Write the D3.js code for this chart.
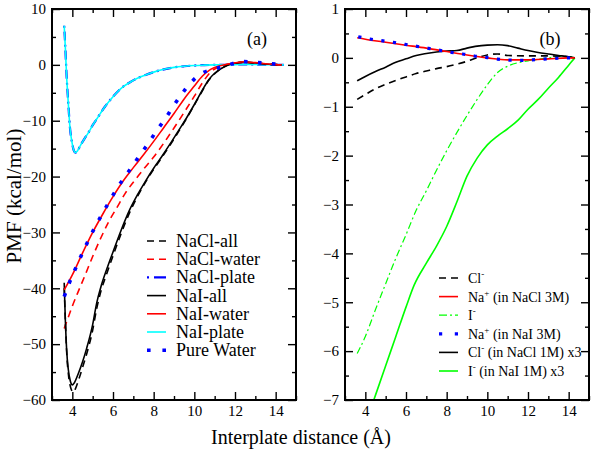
<!DOCTYPE html>
<html>
<head>
<meta charset="utf-8">
<script src="https://cdn.jsdelivr.net/npm/d3@7/dist/d3.min.js"></script>
<style>
  html, body { margin: 0; padding: 0; background: #fff; }
  svg { display: block; }
  text { font-family: 'Liberation Serif', 'Times New Roman', serif; fill: #000; }
</style>
</head>
<body>
<svg id="chart" width="600" height="456"></svg>
<script>
// ---------------- DATA ----------------
const xMajorTicks = [4, 6, 8, 10, 12, 14];
const xMinorTicks = [3, 5, 7, 9, 11, 13, 15];
const aYMajorTicks = [10, 0, -10, -20, -30, -40, -50, -60];
const aYMinorTicks = [5, -5, -15, -25, -35, -45, -55];
const bYMajorTicks = [1, 0, -1, -2, -3, -4, -5, -6, -7];
const bYMinorTicks = [0.5, -0.5, -1.5, -2.5, -3.5, -4.5, -5.5, -6.5];

// Panel (a) series: [distance, PMF]
const naclAll = [[3.6,-40],[3.66,-46],[3.73,-52],[3.82,-55.8],[3.92,-57.8],[4.05,-58.6],[4.15,-58.0],[4.3,-56.5],[4.5,-54.2],[4.7,-51.8],[5.0,-47.5],[5.2,-43.6],[5.4,-40.6],[5.7,-37.3],[6.0,-34.2],[6.4,-30.2],[6.8,-26.6],[7.2,-23.6],[7.6,-21.0],[8.0,-18.7],[8.4,-16.6],[8.8,-14.4],[9.2,-12.1],[9.6,-9.7],[10.0,-7.2],[10.4,-4.6],[10.7,-2.8],[11.0,-1.6],[11.3,-0.7],[11.6,-0.1],[12.0,0.3],[12.4,0.45],[13.0,0.35],[13.5,0.15],[14.0,0.05],[14.3,0]];
const naclWater = [[3.6,-47.2],[3.8,-45.2],[4.0,-43.2],[4.3,-40.5],[4.6,-37.9],[5.0,-34.3],[5.4,-31.0],[5.8,-28.0],[6.2,-25.5],[6.6,-23.0],[7.0,-21.0],[7.5,-18.7],[8.0,-16.5],[8.5,-14.0],[9.0,-11.3],[9.5,-8.5],[10.0,-5.6],[10.4,-3.2],[10.8,-1.3],[11.2,-0.4],[11.6,0.05],[12.0,0.3],[12.4,0.45],[13.0,0.35],[13.5,0.15],[14.0,0.05],[14.3,0]];
const naclPlate = [[3.6,7.0],[3.65,3.5],[3.72,-2.1],[3.8,-6.8],[3.88,-11.1],[3.99,-14.0],[4.07,-15.3],[4.15,-15.7],[4.25,-15.4],[4.4,-14.4],[4.6,-13.2],[4.8,-12.1],[5.0,-10.8],[5.2,-9.7],[5.6,-7.5],[6.0,-5.7],[6.4,-4.2],[6.8,-3.2],[7.2,-2.4],[7.6,-1.8],[8.0,-1.3],[8.5,-0.8],[9.0,-0.45],[9.5,-0.25],[10.0,-0.12],[10.5,-0.05],[11.0,0],[11.5,0.02],[12.0,0.05],[12.5,0.08],[13.0,0.06],[13.5,0.03],[14.0,0],[14.4,0]];
const naiAll = [[3.6,-39],[3.65,-45],[3.72,-51],[3.8,-54.5],[3.9,-56.6],[4.0,-57.3],[4.1,-56.9],[4.3,-55.2],[4.5,-53.2],[4.7,-50.8],[5.0,-46.5],[5.2,-42.6],[5.4,-39.8],[5.7,-36.5],[6.0,-33.5],[6.4,-29.6],[6.8,-26.1],[7.2,-23.3],[7.6,-20.8],[8.0,-18.5],[8.4,-16.4],[8.8,-14.2],[9.2,-11.9],[9.6,-9.6],[10.0,-7.1],[10.4,-4.5],[10.7,-2.7],[11.0,-1.5],[11.3,-0.7],[11.6,-0.1],[12.0,0.3],[12.4,0.5],[13.0,0.35],[13.5,0.15],[14.0,0.05],[14.3,0]];
const naiWater = [[3.6,-40.3],[4.0,-37.6],[4.5,-33.7],[5.0,-30.0],[5.5,-26.7],[6.0,-23.6],[6.5,-20.8],[7.0,-18.4],[7.5,-16.1],[8.0,-13.7],[8.5,-11.2],[9.0,-8.7],[9.5,-6.1],[10.0,-3.8],[10.4,-2.0],[10.8,-0.8],[11.2,-0.2],[11.6,0.1],[12.0,0.35],[12.4,0.55],[13.0,0.4],[13.5,0.2],[14.0,0.05],[14.3,0]];
const naiPlate = [[3.6,7.0],[3.65,3.5],[3.72,-2.1],[3.8,-6.8],[3.88,-11.1],[3.99,-14.0],[4.07,-15.3],[4.15,-15.7],[4.25,-15.4],[4.4,-14.4],[4.6,-13.2],[4.8,-12.1],[5.0,-10.8],[5.2,-9.7],[5.6,-7.5],[6.0,-5.7],[6.4,-4.2],[6.8,-3.2],[7.2,-2.4],[7.6,-1.8],[8.0,-1.3],[8.5,-0.8],[9.0,-0.45],[9.5,-0.25],[10.0,-0.12],[10.5,-0.05],[11.0,0],[11.5,0.02],[12.0,0.05],[12.5,0.08],[13.0,0.06],[13.5,0.03],[14.0,0],[14.4,0]];
const pureWater = [[3.6,-41.5],[3.85,-39.05],[4.14,-36.6],[4.43,-34.2],[4.74,-31.8],[5.05,-29.5],[5.39,-27.2],[5.75,-24.9],[6.12,-22.6],[6.51,-20.4],[6.92,-18.3],[7.33,-16.1],[7.75,-14.0],[8.14,-11.8],[8.56,-9.7],[8.95,-7.5],[9.37,-5.3],[9.8,-3.3],[10.33,-1.6],[11.03,-0.7],[11.68,0.0],[12.41,0.6],[13.11,0.4],[13.81,0.2],[14.3,0]];

// Panel (b) series
const clMinus = [[3.6,-0.85],[4.0,-0.75],[4.5,-0.63],[5.0,-0.54],[5.5,-0.46],[6.0,-0.39],[6.5,-0.32],[7.0,-0.27],[7.5,-0.22],[8.0,-0.18],[8.5,-0.13],[9.0,-0.07],[9.5,0.0],[10.0,0.06],[10.5,0.08],[11.0,0.05],[12.0,0.04],[13.0,0.04],[14.0,0.02],[14.3,0]];
const naInNaCl = [[3.6,0.41],[4.0,0.38],[5.0,0.32],[6.0,0.26],[7.0,0.2],[8.0,0.13],[9.0,0.06],[10.0,0.0],[11.0,-0.04],[12.0,-0.04],[13.0,-0.02],[14.0,0],[14.3,0]];
const iMinus = [[3.6,-6.05],[4.0,-5.7],[4.5,-5.15],[5.0,-4.62],[5.5,-4.1],[6.0,-3.62],[6.5,-3.12],[7.0,-2.72],[7.5,-2.3],[8.0,-1.9],[8.5,-1.53],[9.0,-1.18],[9.5,-0.85],[10.0,-0.55],[10.5,-0.3],[11.0,-0.17],[11.5,-0.1],[12.0,-0.06],[12.5,-0.03],[13.0,0.0],[13.5,0.03],[14.0,0.02],[14.3,0]];
const naInNaI = [[3.65,0.433],[4.23,0.386],[4.8,0.352],[5.38,0.318],[5.95,0.277],[6.53,0.236],[7.1,0.195],[7.67,0.154],[8.23,0.113],[8.79,0.079],[9.36,0.038],[9.94,0.01],[10.49,-0.025],[11.07,-0.045],[11.64,-0.05],[12.21,-0.04],[12.79,-0.025],[13.36,-0.01],[13.93,0.0],[14.3,0]];
const cl1M = [[3.6,-0.47],[4.0,-0.38],[4.5,-0.28],[5.0,-0.19],[5.5,-0.09],[6.0,-0.02],[6.5,0.05],[7.0,0.09],[7.5,0.12],[8.0,0.14],[8.5,0.15],[9.0,0.2],[9.5,0.24],[10.0,0.26],[10.5,0.27],[11.0,0.25],[11.5,0.2],[12.0,0.15],[12.5,0.11],[13.0,0.08],[13.5,0.05],[14.0,0.02],[14.3,0]];
const i1M = [[3.6,-8.0],[4.0,-7.5],[4.5,-6.9],[5.0,-6.3],[5.5,-5.7],[6.0,-5.1],[6.4,-4.65],[7.0,-4.2],[7.5,-3.85],[8.0,-3.45],[8.5,-2.95],[9.0,-2.42],[9.5,-2.05],[10.0,-1.78],[10.5,-1.6],[11.0,-1.45],[11.5,-1.28],[12.0,-1.05],[12.5,-0.85],[13.0,-0.62],[13.5,-0.4],[14.0,-0.15],[14.3,0]];

const legendA = ["NaCl-all", "NaCl-water", "NaCl-plate", "NaI-all", "NaI-water", "NaI-plate", "Pure Water"];

// ---------------- DRAW ----------------
const FONT = "'Liberation Serif', 'Times New Roman', serif";
const svg = d3.select("#chart");
const X_DOMAIN = [3, 15];

const styles = {
  naclAll:   {stroke: "#000000", w: 1.6, dash: "7 5", legDash: "7 5"},
  naclWater: {stroke: "#ff0000", w: 1.6, dash: "7 5", legDash: "7 5"},
  naclPlate: {stroke: "#0000ff", w: 2.2, dash: "2 4 9 4", legDash: "2 5 12 4"},
  naiAll:    {stroke: "#000000", w: 1.6, dash: null},
  naiWater:  {stroke: "#ff0000", w: 1.6, dash: null},
  naiPlate:  {stroke: "#00ffff", w: 1.6, dash: null},
  pureWater: {stroke: "#0000ff", w: 3.6, dash: "3.6 10.4", legDash: "3.6 11.8"},
  clMinus:   {stroke: "#000000", w: 1.6, dash: "7 5", legDash: "7 5"},
  naInNaCl:  {stroke: "#ff0000", w: 1.6, dash: null},
  iMinus:    {stroke: "#00ff00", w: 1.2, dash: "7 3 2 3", legDash: "8 3 2 3"},
  naInNaI:   {stroke: "#0000ff", w: 3.2, dash: "3.2 8.5", legDash: "3.2 12.6"},
  cl1M:      {stroke: "#000000", w: 1.6, dash: null},
  i1M:       {stroke: "#00ff00", w: 1.6, dash: null}
};

function panel(id, left, right, top, bottom, yDomain, yMajor, yMinor, yFmt) {
  const x = d3.scaleLinear().domain(X_DOMAIN).range([left, right]);
  const y = d3.scaleLinear().domain(yDomain).range([bottom, top]);
  const g = svg.append("g");

  g.append("clipPath").attr("id", "clip" + id)
    .append("rect").attr("x", left).attr("y", top).attr("width", right - left).attr("height", bottom - top);

  const addAxis = (axis, tr) => {
    const a = g.append("g").attr("transform", tr).call(axis)
      .attr("font-family", FONT).attr("font-size", 15);
    a.select(".domain").remove();
    a.selectAll("line").attr("stroke", "#000").attr("stroke-width", 1.4);
    a.selectAll("text").attr("fill", "#000");
    return a;
  };
  addAxis(d3.axisBottom(x).tickValues(xMajorTicks).tickSize(-8).tickPadding(5).tickFormat(d3.format("d")), `translate(0,${bottom})`);
  addAxis(d3.axisBottom(x).tickValues(xMinorTicks).tickSize(-4).tickFormat(""), `translate(0,${bottom})`);
  addAxis(d3.axisTop(x).tickValues(xMajorTicks).tickSize(-8).tickFormat(""), `translate(0,${top})`);
  addAxis(d3.axisTop(x).tickValues(xMinorTicks).tickSize(-4).tickFormat(""), `translate(0,${top})`);
  addAxis(d3.axisLeft(y).tickValues(yMajor).tickSize(-8).tickPadding(6).tickFormat(yFmt), `translate(${left},0)`);
  addAxis(d3.axisLeft(y).tickValues(yMinor).tickSize(-4).tickFormat(""), `translate(${left},0)`);
  addAxis(d3.axisRight(y).tickValues(yMajor).tickSize(-8).tickFormat(""), `translate(${right},0)`);
  addAxis(d3.axisRight(y).tickValues(yMinor).tickSize(-4).tickFormat(""), `translate(${right},0)`);

  const plot = g.append("g").attr("clip-path", `url(#clip${id})`);
  const line = d3.line().x(d => x(d[0])).y(d => y(d[1])).curve(d3.curveMonotoneX);
  const drawSeries = (data, st) => {
    const p = plot.append("path").datum(data).attr("d", line)
      .attr("fill", "none").attr("stroke", st.stroke).attr("stroke-width", st.w)
      .attr("stroke-linejoin", "round");
    if (st.dash) p.attr("stroke-dasharray", st.dash);
    return p;
  };

  g.append("rect").attr("x", left).attr("y", top).attr("width", right - left).attr("height", bottom - top)
    .attr("fill", "none").attr("stroke", "#000").attr("stroke-width", 2);

  return {x, y, g, drawSeries};
}

const fmtInt = d3.format("d");
const pa = panel("a", 52, 296, 9, 400, [-60, 10], aYMajorTicks, aYMinorTicks, fmtInt);
const pb = panel("b", 345, 589, 9, 400, [-7, 1], bYMajorTicks, bYMinorTicks, fmtInt);

// panel a curves
pa.drawSeries(naclPlate, styles.naclPlate);
pa.drawSeries(naiPlate, styles.naiPlate);
pa.drawSeries(naclWater, styles.naclWater);
pa.drawSeries(naclAll, styles.naclAll);
pa.drawSeries(naiAll, styles.naiAll);
pa.drawSeries(naiWater, styles.naiWater);
pa.drawSeries(pureWater, styles.pureWater);

// panel b curves
pb.drawSeries(i1M, styles.i1M);
pb.drawSeries(iMinus, styles.iMinus);
pb.drawSeries(clMinus, styles.clMinus);
pb.drawSeries(cl1M, styles.cl1M);
pb.drawSeries(naInNaCl, styles.naInNaCl);
pb.drawSeries(naInNaI, styles.naInNaI);

// panel labels
svg.append("text").attr("x", 257).attr("y", 45).attr("text-anchor", "middle").style("font-size", "18px").text("(a)");
svg.append("text").attr("x", 550).attr("y", 45).attr("text-anchor", "middle").style("font-size", "18px").text("(b)");

// legend a
const legAKeys = ["naclAll", "naclWater", "naclPlate", "naiAll", "naiWater", "naiPlate", "pureWater"];
legendA.forEach((name, i) => {
  const yy = 241 + i * 18.2;
  const st = styles[legAKeys[i]];
  const ln = svg.append("line").attr("x1", 147).attr("x2", 166).attr("y1", yy).attr("y2", yy)
    .attr("stroke", st.stroke).attr("stroke-width", st.w);
  if (st.legDash) ln.attr("stroke-dasharray", st.legDash);
  svg.append("text").attr("x", 176).attr("y", yy + 6).style("font-size", "18px").text(name);
});

// legend b
const legBKeys = ["clMinus", "naInNaCl", "iMinus", "naInNaI", "cl1M", "i1M"];
const legB = [
  {base: "Cl", sup: "-", rest: ""},
  {base: "Na", sup: "+", rest: " (in NaCl 3M)"},
  {base: "I", sup: "-", rest: ""},
  {base: "Na", sup: "+", rest: " (in NaI 3M)"},
  {base: "Cl", sup: "-", rest: " (in NaCl 1M) x3"},
  {base: "I", sup: "-", rest: " (in NaI 1M) x3"}
];
legB.forEach((e, i) => {
  const yy = 278 + i * 18.6;
  const st = styles[legBKeys[i]];
  const ln = svg.append("line").attr("x1", 439).attr("x2", 458).attr("y1", yy).attr("y2", yy)
    .attr("stroke", st.stroke).attr("stroke-width", st.w);
  if (st.legDash) ln.attr("stroke-dasharray", st.legDash);
  const t = svg.append("text").attr("x", 468).attr("y", yy + 5).style("font-size", "14px");
  t.append("tspan").text(e.base);
  t.append("tspan").attr("dy", -6).style("font-size", "9px").text(e.sup);
  t.append("tspan").attr("dy", 6).text(e.rest);
});

// axis titles
svg.append("text").attr("transform", "translate(21,196) rotate(-90)").attr("text-anchor", "middle")
  .style("font-size", "21px").text("PMF (kcal/mol)");
svg.append("text").attr("x", 301).attr("y", 444).attr("text-anchor", "middle")
  .style("font-size", "20px").text("Interplate distance (Å)");
</script>
</body>
</html>
